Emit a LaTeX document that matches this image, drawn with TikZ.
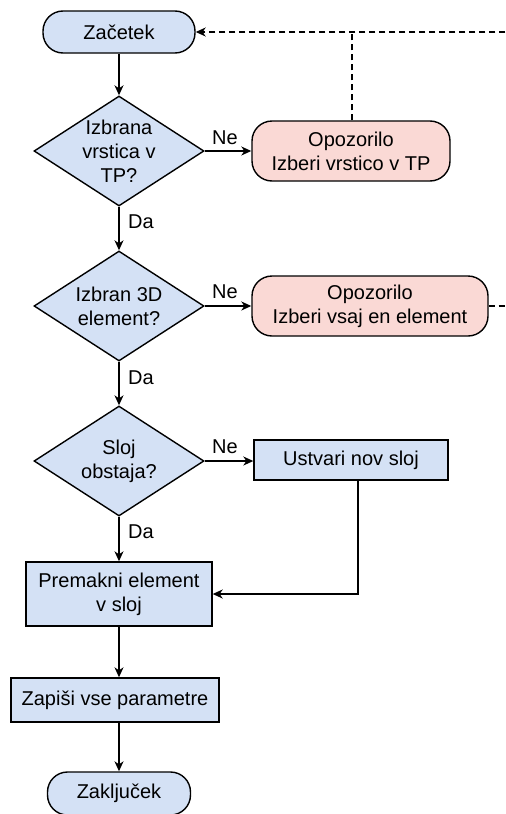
\documentclass[tikz,border=0pt]{standalone}
\usepackage{fontspec}
\setmainfont{Liberation Sans}
\usetikzlibrary{shapes.geometric,arrows.meta}
\definecolor{bluefill}{HTML}{D4E1F5}
\definecolor{pinkfill}{HTML}{FAD9D5}
\begin{document}
\begin{tikzpicture}[x=1pt,y=-1pt,
  every node/.style={font=\fontsize{20}{24}\selectfont},
  base/.style={draw=black,line width=1.4pt},
  term/.style={base,fill=bluefill,rectangle,rounded corners=20pt,inner sep=0pt},
  warn/.style={base,fill=pinkfill,rectangle,rounded corners=20pt,inner sep=0pt,align=center},
  proc/.style={base,fill=bluefill,rectangle,inner sep=0pt,align=center},
  dec/.style={base,fill=bluefill,diamond,inner sep=0pt,minimum width=170pt,minimum height=110pt},
  dtext/.style={align=center,inner sep=0pt},
  lbl/.style={inner sep=0pt},
  arr/.style={line width=1.4pt,-{Stealth[length=10pt,width=9pt,inset=3pt]}},
  dsh/.style={line width=1.4pt,dash pattern=on 6pt off 4pt}
]
\useasboundingbox (0,0) rectangle (506,814);

\node[term,minimum width=152pt,minimum height=42pt] (start) at (119,32) {Začetek};

\node[dec] (d1) at (119,151) {};
\node[dtext] (d1t) at (d1) {Izbrana\\vrstica v\\TP?};
\node[warn,minimum width=198pt,minimum height=60pt] (w1) at (351,151) {Opozorilo\\Izberi vrstico v TP};

\node[dec] (d2) at (119,306) {};
\node[dtext] (d2t) at (d2) {Izbran 3D\\element?};
\node[warn,minimum width=236pt,minimum height=60pt] (w2) at (370,306) {Opozorilo\\Izberi vsaj en element};

\node[dec] (d3) at (119,461) {};
\node[dtext] (d3t) at (d3) {Sloj\\obstaja?};
\node[proc,minimum width=194pt,minimum height=40pt] (newl) at (351,460) {Ustvari nov sloj};

\node[proc,minimum width=186pt,minimum height=64pt] (move) at (119,594) {Premakni element\\v sloj};
\node[proc,minimum width=208pt,minimum height=44pt] (save) at (115,700) {Zapiši vse parametre};
\node[term,minimum width=143pt,minimum height=43pt] (fin) at (119,793.5) {Zaključek};

% main flow
\draw[arr] (start.south) -- (d1.north);
\draw[arr] (d1.south) -- (d2.north);
\draw[arr] (d2.south) -- (d3.north);
\draw[arr] (d3.south) -- (move.north);
\draw[arr] (move.south) -- (move.south |- save.north);
\draw[arr] (fin.north |- save.south) -- (fin.north);

% no branches
\draw[arr] (d1.east) -- (w1.west);
\draw[arr] (d2.east) -- (w2.west);
\draw[arr] (d3.east) -- (d3.east -| newl.west);
\draw[arr] ([xshift=7pt]newl.south) |- (move.east);

% dashed returns
\coordinate (j1) at (352,32);
\coordinate (r1) at (530,306);
\coordinate (r2) at (530,32);
\draw[dsh] (w1.north -| j1) -- (j1);
\draw[dsh,-{Stealth[length=10pt,width=9pt,inset=3pt]}] (w2.east) -- (r1) -- (r2) -- (start.east);

% labels
\node[lbl] (ne1) at (225,138) {Ne};
\node[lbl] (ne2) at (225,292) {Ne};
\node[lbl] (ne3) at (225,447) {Ne};
\node[lbl] (da1) at (141,222) {Da};
\node[lbl] (da2) at (141,378) {Da};
\node[lbl] (da3) at (141,532) {Da};
\end{tikzpicture}
\end{document}
